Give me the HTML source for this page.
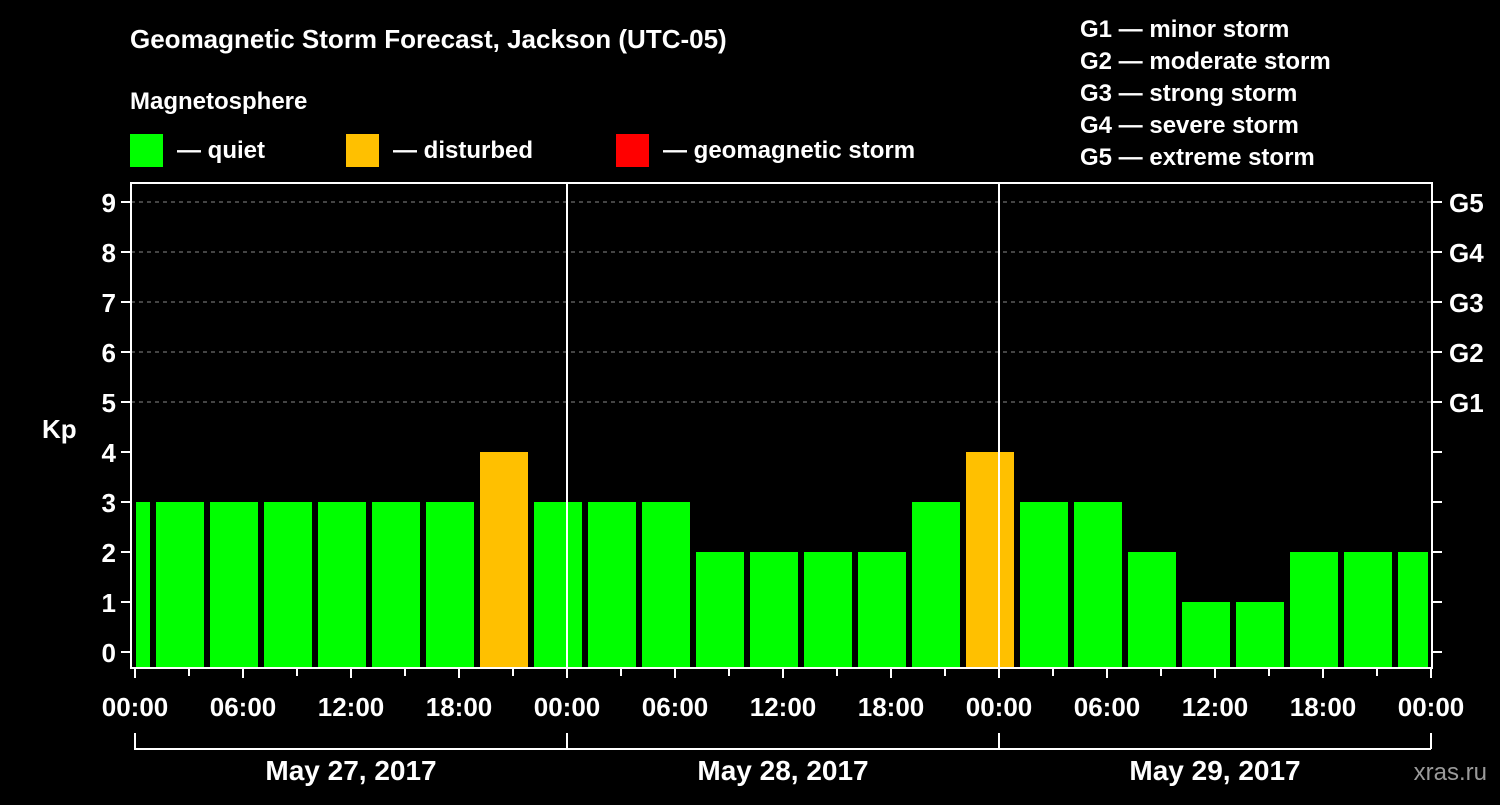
<!DOCTYPE html>
<html><head><meta charset="utf-8"><style>
body{margin:0;background:#000;width:1500px;height:800px;overflow:hidden;font-family:"Liberation Sans",sans-serif}
svg text{font-family:"Liberation Sans",sans-serif;font-weight:bold;fill:#fff}
</style></head><body>
<svg id="c" width="1500" height="800">
<text x="130" y="48" font-size="26">Geomagnetic Storm Forecast, Jackson (UTC-05)</text>
<text x="130" y="109" font-size="24">Magnetosphere</text>
<rect x="130" y="134" width="33" height="33" fill="#00ff00"/>
<text x="177" y="158" font-size="24">— quiet</text>
<rect x="346" y="134" width="33" height="33" fill="#ffc000"/>
<text x="393" y="158" font-size="24">— disturbed</text>
<rect x="616" y="134" width="33" height="33" fill="#ff0000"/>
<text x="663" y="158" font-size="24">— geomagnetic storm</text>
<g font-size="24">
<text x="1080" y="37">G1 — minor storm</text>
<text x="1080" y="69">G2 — moderate storm</text>
<text x="1080" y="101">G3 — strong storm</text>
<text x="1080" y="133">G4 — severe storm</text>
<text x="1080" y="165">G5 — extreme storm</text>
</g>
<text x="42" y="438" font-size="26">Kp</text>
<text x="1487" y="780" font-size="24" text-anchor="end" fill="#888" style="fill:#9a9a9a;font-weight:normal">xras.ru</text>
<g id="plot"></g>
</svg>
<script>
const kpValues=[3,3,3,3,3,3,3,4,3,3,3,2,2,2,2,3,4,3,3,2,1,1,2,2,2];
const yTicks=[0,1,2,3,4,5,6,7,8,9];
const gLabels=["G1","G2","G3","G4","G5"];
const xTickLabels=["00:00","06:00","12:00","18:00","00:00","06:00","12:00","18:00","00:00","06:00","12:00","18:00","00:00"];
const dayLabels=["May 27, 2017","May 28, 2017","May 29, 2017"];
const ns="http://www.w3.org/2000/svg";
const g=document.getElementById('plot');
const X0=135,PX_H=18,L=131,R=1432,T=183,B=668;
const x=h=>X0+h*PX_H;
const y=v=>652-v*50;
function el(t,a,p){const e=document.createElementNS(ns,t);for(const k in a)e.setAttribute(k,a[k]);(p||g).appendChild(e);return e;}
// grid for G levels
for(let v=5;v<=9;v++){const e=el('line',{x1:L,x2:R,y1:y(v),y2:y(v),stroke:'#888','stroke-dasharray':'4,4'});

}
// bars
kpValues.forEach((v,i)=>{
  const start=-2+3*i;
  let x1=x(start)+3,x2=x(start+3)-3;
  x1=Math.max(x1,136);x2=Math.min(x2,1428);
  const col=v>=5?'#ff0000':(v>=4?'#ffc000':'#00ff00');
  const r=el('rect',{x:x1,y:y(v),width:x2-x1,height:B-1-y(v),fill:col});
  
  
});
// day separators
[1,2].forEach(d=>{const e=el('line',{x1:x(24*d),x2:x(24*d),y1:T,y2:B,stroke:'#fff','stroke-width':2});

});
// frame
const f=el('rect',{x:L,y:T,width:R-L,height:B-T,fill:'none',stroke:'#fff','stroke-width':2});


// y ticks
yTicks.forEach(v=>{
  el('line',{x1:L-10,x2:L,y1:y(v),y2:y(v),stroke:'#fff','stroke-width':2});
  el('line',{x1:R,x2:R+10,y1:y(v),y2:y(v),stroke:'#fff','stroke-width':2});
  const t=el('text',{x:116,y:y(v)+10,'font-size':26,'text-anchor':'end'});t.textContent=v;
  
  
});
gLabels.forEach((s,i)=>{const t=el('text',{x:1449,y:y(5+i)+10,'font-size':26});t.textContent=s;

});
// x ticks
for(let h=0;h<=72;h+=3){
  const major=h%6===0;
  el('line',{x1:x(h),x2:x(h),y1:B,y2:B+(major?10:8),stroke:'#fff','stroke-width':2});
}
xTickLabels.forEach((s,i)=>{const t=el('text',{x:x(i*6),y:716,'font-size':26,'text-anchor':'middle'});t.textContent=s;

});
// day brackets
dayLabels.forEach((s,d)=>{
  el('path',{d:`M${x(24*d)} 733V749H${x(24*(d+1))}`,fill:'none',stroke:'#fff','stroke-width':2});
  const t=el('text',{x:x(24*d+12),y:780,'font-size':28,'text-anchor':'middle'});t.textContent=s;
  
  
});
el('line',{x1:x(72),x2:x(72),y1:733,y2:749,stroke:'#fff','stroke-width':2});
</script>
</body></html>
